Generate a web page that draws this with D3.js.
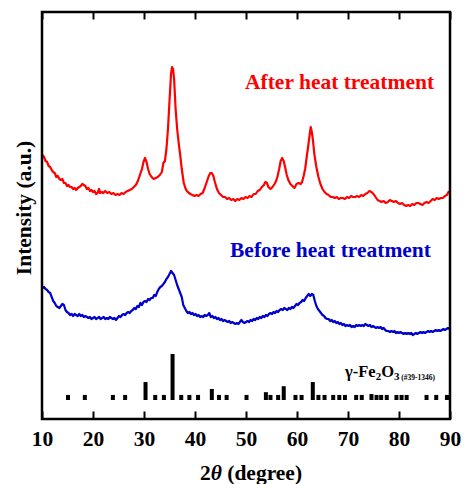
<!DOCTYPE html>
<html><head><meta charset="utf-8">
<script src="https://cdn.jsdelivr.net/npm/d3@7/dist/d3.min.js"></script>
<style>body{margin:0;background:#fff}svg{display:block}text{font-family:"Liberation Serif","Times New Roman",serif;font-weight:bold}</style>
</head><body><svg id="c" width="464" height="484"></svg>
<script>
// After heat treatment (red)
const afterTheta = [10.1,10.4,10.7,11.0,11.3,11.6,11.9,12.2,12.5,12.8,13.1,13.4,13.7,14.0,14.3,14.6,14.9,15.2,15.5,15.8,16.1,16.4,16.7,17.0,17.3,17.6,17.9,18.2,18.5,18.8,19.1,19.4,19.7,20.0,20.3,20.6,20.9,21.2,21.4,21.7,22.0,22.4,22.8,23.2,23.6,24.0,24.4,24.8,25.2,25.6,26.0,26.4,26.8,27.2,27.6,28.0,28.4,28.8,29.2,29.6,29.9,30.2,30.5,30.8,31.1,31.5,31.9,32.3,32.7,33.1,33.5,33.8,34.1,34.4,34.7,35.0,35.3,35.5,35.7,35.9,36.2,36.5,36.8,37.1,37.4,37.8,38.1,38.4,38.8,39.1,39.5,39.9,40.3,40.7,41.1,41.5,41.9,42.3,42.7,43.0,43.3,43.6,43.9,44.3,44.7,45.1,45.5,45.9,46.3,46.7,47.1,47.5,47.9,48.3,48.7,49.1,49.5,49.9,50.3,50.7,51.1,51.5,51.9,52.3,52.7,53.1,53.5,53.8,54.1,54.4,54.8,55.2,55.6,55.9,56.2,56.5,56.8,57.1,57.4,57.7,58.0,58.3,58.7,59.1,59.5,59.9,60.3,60.7,61.0,61.3,61.6,61.9,62.2,62.5,62.7,62.9,63.1,63.4,63.8,64.2,64.6,65.0,65.4,65.8,66.2,66.6,67.0,67.4,67.8,68.2,68.6,69.0,69.4,69.8,70.2,70.6,71.0,71.4,71.8,72.2,72.6,73.0,73.4,73.8,74.2,74.6,75.0,75.4,75.8,76.2,76.6,77.0,77.4,77.8,78.2,78.6,79.0,79.4,79.8,80.2,80.6,81.0,81.4,81.8,82.2,82.6,83.0,83.4,83.8,84.2,84.6,85.0,85.4,85.8,86.2,86.6,87.0,87.4,87.8,88.2,88.6,89.0,89.4,89.8];
const afterI = [264,262,258,257,253,252,249,247,246,242,243,240,239,240,236,236,233,234,232,232,230,231,229,231,232,233,235,234,233,230,231,228,229,227,228,225,226,230,226,227,226,228,226,227,225,226,224,225,224,226,225,227,228,229,230,232,234,238,244,250,257,261,257,250,245,242,240,241,242,244,247,256,258,270,290,318,345,352,350,340,310,290,276,264,250,236,231,228,226,225,224,223,224,223,225,226,231,237,243,246,246,243,237,230,226,224,222,222,220,221,219,220,218,220,219,221,220,222,221,223,222,225,225,228,229,232,234,237,236,232,230,232,235,238,243,250,258,261,258,251,244,239,235,233,231,235,236,235,237,243,250,262,273,285,292,287,280,265,252,242,235,230,227,225,224,222,222,221,222,220,221,221,220,222,221,223,222,222,223,222,224,223,225,226,228,227,225,222,219,218,217,218,216,217,219,218,217,218,216,215,216,214,213,214,213,215,214,216,216,215,214,216,217,216,218,220,219,221,220,221,221,223,224,228];
// Before heat treatment (blue)
const beforeTheta = [10.1,10.4,10.7,11.0,11.3,11.6,11.9,12.2,12.5,12.8,13.1,13.4,13.7,14.0,14.3,14.6,14.9,15.2,15.5,15.8,16.1,16.4,16.7,17.0,17.3,17.6,17.9,18.2,18.5,18.8,19.1,19.4,19.7,20.0,20.3,20.6,20.9,21.2,21.5,21.8,22.1,22.4,22.7,23.0,23.3,23.6,23.9,24.2,24.5,24.8,25.1,25.4,25.7,26.0,26.3,26.6,26.9,27.2,27.5,27.8,28.1,28.4,28.7,29.0,29.3,29.6,29.9,30.2,30.5,30.8,31.1,31.4,31.7,32.0,32.3,32.6,32.9,33.2,33.5,33.8,34.1,34.4,34.7,35.0,35.3,35.6,35.9,36.2,36.5,36.8,37.1,37.4,37.7,38.0,38.3,38.6,38.9,39.2,39.5,39.8,40.1,40.4,40.7,41.0,41.3,41.6,41.9,42.2,42.5,42.8,43.1,43.4,43.7,44.0,44.3,44.6,44.9,45.2,45.5,45.8,46.1,46.4,46.7,47.0,47.3,47.6,47.9,48.2,48.5,48.8,49.1,49.4,49.7,50.0,50.3,50.6,50.9,51.2,51.5,51.8,52.1,52.4,52.7,53.0,53.3,53.6,53.9,54.2,54.5,54.8,55.1,55.4,55.7,56.0,56.3,56.6,56.9,57.2,57.5,57.8,58.1,58.4,58.7,59.0,59.3,59.6,59.9,60.2,60.5,60.8,61.1,61.4,61.7,62.0,62.3,62.6,62.9,63.2,63.5,63.8,64.1,64.4,64.7,65.0,65.3,65.6,65.9,66.2,66.5,66.8,67.1,67.4,67.7,68.0,68.3,68.6,68.9,69.2,69.5,69.8,70.1,70.4,70.7,71.0,71.3,71.6,71.9,72.2,72.5,72.8,73.1,73.4,73.7,74.0,74.3,74.6,74.9,75.2,75.5,75.8,76.1,76.4,76.7,77.0,77.3,77.6,77.9,78.2,78.5,78.8,79.1,79.4,79.7,80.0,80.3,80.6,80.9,81.2,81.5,81.8,82.1,82.4,82.7,83.0,83.3,83.6,83.9,84.2,84.5,84.8,85.1,85.4,85.7,86.0,86.3,86.6,86.9,87.2,87.5,87.8,88.1,88.4,88.7,89.0,89.3,89.6,89.9];
const beforeI = [131,132,130,129,127,126,122,118,116,113,112,111,113,115,114,109,107,106,104,105,103,105,104,103,105,103,104,102,103,102,101,102,100,101,102,100,101,102,100,101,102,100,101,100,102,101,100,101,99,101,103,102,104,105,104,106,107,106,108,109,111,110,113,112,116,114,117,118,117,120,119,121,121,124,123,127,130,132,133,135,137,140,142,145,148,146,144,139,134,130,126,122,114,111,108,106,107,105,106,104,105,103,104,102,103,102,104,103,104,106,102,103,101,102,100,101,99,100,98,99,98,97,98,96,97,96,95,96,95,97,99,97,96,97,98,97,99,98,100,99,101,100,102,101,103,102,104,103,105,106,105,107,106,108,107,109,110,109,111,110,109,111,110,112,111,113,115,114,116,117,119,118,121,123,125,123,125,124,118,113,110,108,106,104,103,101,100,100,98,99,97,98,96,97,95,96,94,95,93,94,93,94,92,93,92,94,93,94,93,94,93,95,94,93,94,92,93,92,91,92,91,92,90,91,89,88,88,87,88,87,88,86,87,86,87,86,85,86,85,86,85,86,84,85,86,85,86,87,86,87,86,87,88,87,88,87,88,89,88,89,88,89,90,89,90,91,90];
// Reference pattern gamma-Fe2O3 (#39-1346)
const refTheta = [15.1,18.4,23.9,26.3,30.3,32.2,33.9,35.6,37.3,38.9,40.6,43.3,44.7,46.2,50.1,53.9,54.8,56.3,57.4,59.7,60.9,63.1,64.2,65.4,67.1,68.3,69.4,71.6,72.7,74.6,75.6,76.5,77.6,79.5,80.5,81.5,85.4,87.3,89.4];
const refI     = [11,11,11,11,39,11,11,100,11,11,11,24,11,11,11,17,11,11,30,11,11,39,11,11,11,11,11,11,11,13,11,11,11,11,11,11,11,11,11];
const xTicks = [10,20,30,40,50,60,70,80,90];

const svg = d3.select("#c");
const L=42, R=450, T=12, B=419;
const x = d3.scaleLinear().domain([10,90]).range([L,R]);
const y = d3.scaleLinear().domain([0,407]).range([B,T]);
const yRef = d3.scaleLinear().domain([0,100]).range([400,354]);

const line = d3.line().x(d=>x(d[0])).y(d=>y(d[1]));
svg.append("path").datum(afterTheta.map((t,i)=>[t,afterI[i]]))
  .attr("d",line).attr("fill","none").attr("stroke","#ff0000").attr("stroke-width",2.2).attr("stroke-linejoin","round");
svg.append("path").datum(beforeTheta.map((t,i)=>[t,beforeI[i]]))
  .attr("d",line).attr("fill","none").attr("stroke","#0000cc").attr("stroke-width",2.2).attr("stroke-linejoin","round");

svg.append("g").selectAll("rect").data(refTheta.map((t,i)=>[t,refI[i]])).join("rect")
  .attr("x",d=>Math.min(x(d[0])-2, R-4)).attr("width",4)
  .attr("y",d=>yRef(d[1])).attr("height",d=>yRef(0)-yRef(d[1])).attr("fill","#000");

// axes
const gx = svg.append("g").attr("transform",`translate(0,${B})`)
  .call(d3.axisBottom(x).tickValues(xTicks).tickSize(-7.5).tickPadding(12).tickFormat(d3.format("d")));
gx.select(".domain").remove();
gx.selectAll("line").attr("stroke","#000").attr("stroke-width",2);
gx.selectAll("text").attr("font-size","21.5px").attr("fill","#000").style("font-family","'Liberation Serif',serif").style("font-weight","bold");
const gt = svg.append("g").attr("transform",`translate(0,${T})`)
  .call(d3.axisTop(x).tickValues(xTicks).tickSize(-7.5).tickFormat(""));
gt.select(".domain").remove();
gt.selectAll("line").attr("stroke","#000").attr("stroke-width",2);

svg.append("rect").attr("x",L).attr("y",T).attr("width",R-L).attr("height",B-T)
  .attr("fill","none").attr("stroke","#000").attr("stroke-width",2.5);

// labels
svg.append("text").attr("x",245).attr("y",89).attr("font-size","21.5px").attr("fill","#ff0000").text("After heat treatment");
svg.append("text").attr("x",230).attr("y",257).attr("font-size","21.5px").attr("fill","#0000cc").text("Before heat treatment");

const g = svg.append("text").attr("x",345).attr("y",377).attr("font-size","16.5px").attr("fill","#000");
g.append("tspan").text("γ-Fe");
g.append("tspan").attr("font-size","11px").attr("dy",3).text("2");
g.append("tspan").attr("dy",-3).text("O");
g.append("tspan").attr("font-size","11px").attr("dy",3).text("3");
g.append("tspan").attr("font-size","7.5px").attr("dy",0).text(" (#39-1346)");

const xt = svg.append("text").attr("x",251).attr("y",480).attr("text-anchor","middle").attr("font-size","21.5px").attr("fill","#000");
xt.append("tspan").text("2");
xt.append("tspan").attr("font-style","italic").text("θ");
xt.append("tspan").text(" (degree)");

svg.append("text").attr("transform","translate(31,208) rotate(-90)").attr("text-anchor","middle")
  .attr("font-size","21.5px").attr("fill","#000").text("Intensity (a.u.)");
</script></body></html>
